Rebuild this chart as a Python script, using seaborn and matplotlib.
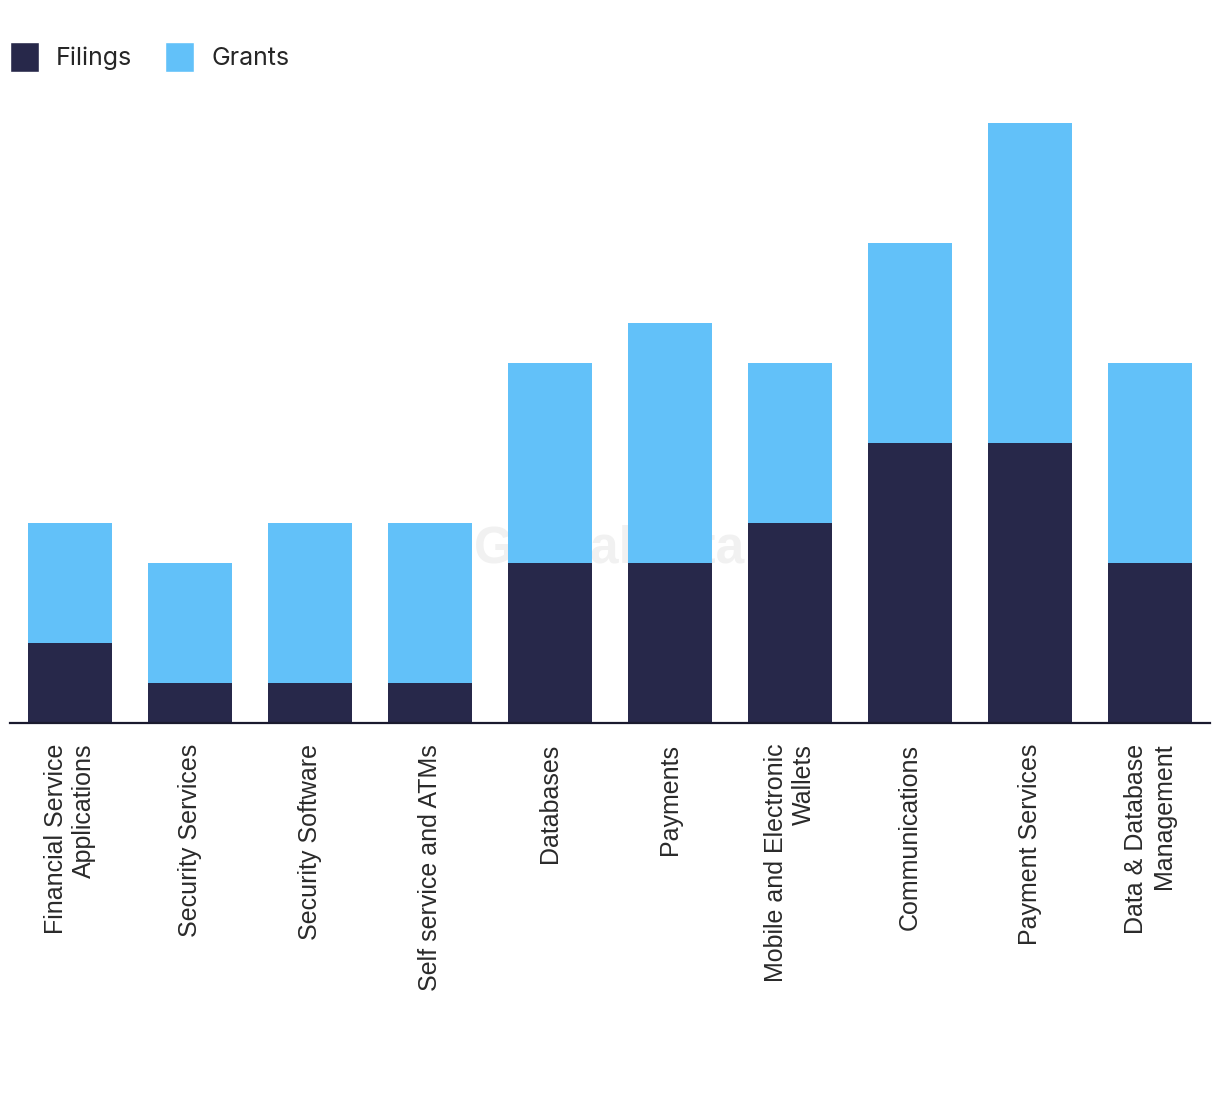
import matplotlib
matplotlib.use('Agg')
import matplotlib.pyplot as plt
import seaborn as sns
import pandas as pd
from matplotlib.patches import Patch

# data
categories = ['Financial Service\nApplications', 'Security Services', 'Security Software',
              'Self service and ATMs', 'Databases', 'Payments',
              'Mobile and Electronic\nWallets', 'Communications', 'Payment Services',
              'Data & Database\nManagement']
filings = [2, 1, 1, 1, 4, 4, 5, 7, 7, 4]
grants = [3, 3, 4, 4, 5, 6, 4, 5, 8, 5]

dark = '#27284a'
light = '#62c1f9'

sns.set_theme(style='white')
plt.rcParams['font.family'] = ['Liberation Sans', 'DejaVu Sans']

df = pd.DataFrame({'cat': categories, 'Filings': filings, 'Grants': grants})
df['Total'] = df['Filings'] + df['Grants']

fig = plt.figure(figsize=(12.2, 10.94), dpi=100)
ax = fig.add_axes([10/1220, 371/1094, 1200/1220, 620/1094])

# stacked: total first (grants colour), then filings on top of it
sns.barplot(data=df, x='cat', y='Total', color=light, width=0.7, saturation=1,
            linewidth=0, ax=ax)
sns.barplot(data=df, x='cat', y='Filings', color=dark, width=0.7, saturation=1,
            linewidth=0, ax=ax)

ax.set_xlim(-0.5, 9.5)
ax.set_ylim(0, 15.5)
ax.set_xlabel('')
ax.set_ylabel('')
ax.set_yticks([])
for s in ['top', 'right', 'left']:
    ax.spines[s].set_visible(False)
ax.spines['bottom'].set_color('#1a1a2e')
ax.spines['bottom'].set_linewidth(1.6)
ax.tick_params(axis='x', length=0, pad=15)
ax.set_xticks(range(len(categories)))
ax.set_xticklabels(categories, rotation=90, ha='center', va='top',
                   multialignment='right', fontsize=18, color='#2a2a2a')

# watermark
ax.text(0.5, 0.28, 'GlobalData', transform=ax.transAxes, ha='center', va='center',
        fontsize=37, fontweight='bold', color='#f1f1f1', zorder=0.5)

handles = [Patch(facecolor=dark, label='Filings'), Patch(facecolor=light, label='Grants')]
fig.legend(handles=handles, loc='upper left', bbox_to_anchor=(10/1220, 1 - 42/1094), ncol=2,
           frameon=False, handlelength=1.15, handleheight=1.45,
           handletextpad=0.7, columnspacing=1.3, borderaxespad=0, borderpad=0,
           prop={'family': ['Inter', 'DejaVu Sans'], 'size': 18})

fig.savefig('out.png', dpi=100, facecolor='white')
